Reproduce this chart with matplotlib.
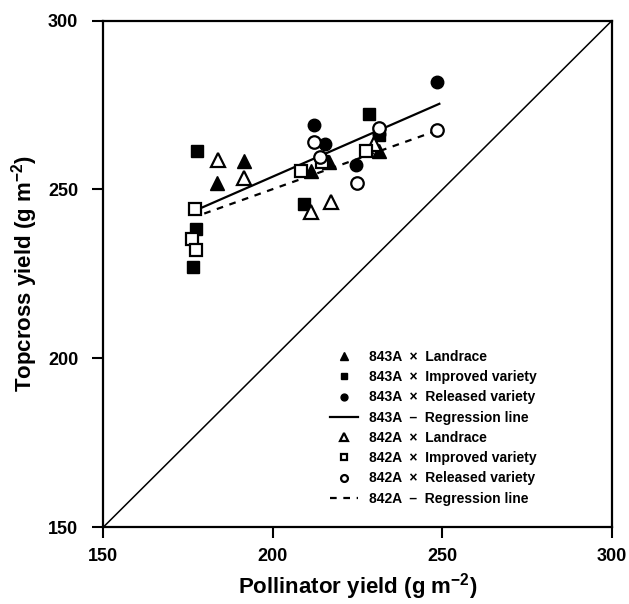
import matplotlib
matplotlib.use("Agg")
import matplotlib.pyplot as plt
import numpy as np

plt.rcParams['font.family'] = ['Liberation Sans', 'DejaVu Sans']
plt.rcParams['font.weight'] = 'bold'
plt.rcParams['mathtext.fontset'] = 'custom'
plt.rcParams['mathtext.rm'] = 'Liberation Sans:bold'
plt.rcParams['mathtext.default'] = 'rm'

# 843A topcrosses (pollinator yield, topcross yield)
a843_land_x = [191.6, 183.6, 216.7, 211.3, 231.4]
a843_land_y = [258.3, 251.8, 258.0, 255.6, 261.5]
a843_impr_x = [177.7, 177.3, 176.6, 209.3, 228.5, 231.4]
a843_impr_y = [261.3, 238.4, 227.0, 245.8, 272.4, 266.0]
a843_rel_x = [212.2, 215.5, 224.6, 231.4, 248.5]
a843_rel_y = [269.2, 263.5, 257.1, 266.5, 281.7]

# 842A topcrosses
a842_land_x = [183.9, 191.6, 211.3, 217.2, 229.9]
a842_land_y = [258.6, 253.3, 243.3, 246.2, 263.5]
a842_impr_x = [177.1, 176.3, 177.3, 208.3, 214.6, 227.4]
a842_impr_y = [244.1, 235.4, 232.0, 255.6, 258.0, 261.5]
a842_rel_x = [212.2, 214.0, 224.9, 231.4, 248.5]
a842_rel_y = [264.0, 259.5, 252.0, 268.3, 267.5]

# regression lines (slope, intercept, x range)
reg843 = (0.439, 166.0, 179.2, 249.1)
reg842 = (0.358, 178.5, 179.8, 248.5)

ticks = [150, 200, 250, 300]

fig = plt.figure(figsize=(6.29, 6.04), dpi=100)
ax = fig.add_axes([0.164, 0.127, 0.809, 0.839])

ax.plot([150, 300], [150, 300], color='black', lw=1.1, zorder=1)

def regline(r, ls, label):
    xs = np.array([r[2], r[3]])
    ax.plot(xs, r[0] * xs + r[1], color='black', lw=1.6, ls=ls, label=label, zorder=2)

filled = dict(color='black', mec='black', ls='none', zorder=3)
hollow = dict(color='black', mfc='white', mec='black', mew=1.6, ls='none', zorder=3)

ax.plot(a843_land_x, a843_land_y, '^', ms=10, label='843A  \u00d7  Landrace', **filled)
ax.plot(a843_impr_x, a843_impr_y, 's', ms=8.5, label='843A  \u00d7  Improved variety', **filled)
ax.plot(a843_rel_x, a843_rel_y, 'o', ms=9, label='843A  \u00d7  Released variety', **filled)
regline(reg843, '-', '843A  \u2013  Regression line')
ax.plot(a842_land_x, a842_land_y, '^', ms=10, label='842A  \u00d7  Landrace', **hollow)
ax.plot(a842_impr_x, a842_impr_y, 's', ms=8.5, label='842A  \u00d7  Improved variety', **hollow)
ax.plot(a842_rel_x, a842_rel_y, 'o', ms=9, label='842A  \u00d7  Released variety', **hollow)
regline(reg842, (0, (3, 3)), '842A  \u2013  Regression line')

ax.set_xlim(150, 300)
ax.set_ylim(150, 300)
ax.set_xticks(ticks)
ax.set_yticks(ticks)
ax.tick_params(axis='both', direction='out', length=8, width=1.5, labelsize=13)
ax.tick_params(axis='y', pad=10)
ax.tick_params(axis='x', pad=7)
for s in ax.spines.values():
    s.set_linewidth(1.6)

ax.set_xlabel('Pollinator yield (g m$^{-2}$)', fontsize=16, fontweight='bold', labelpad=4)
ax.set_ylabel('Topcross yield (g m$^{-2}$)', fontsize=16, fontweight='bold', labelpad=6)

leg = ax.legend(loc='upper left', bbox_to_anchor=(0.446, 0.35), frameon=False,
                fontsize=10, markerscale=0.55, handlelength=2.0, handletextpad=0.8,
                labelspacing=0.45, borderpad=0, borderaxespad=0)

fig.savefig('out.png', dpi=100)
